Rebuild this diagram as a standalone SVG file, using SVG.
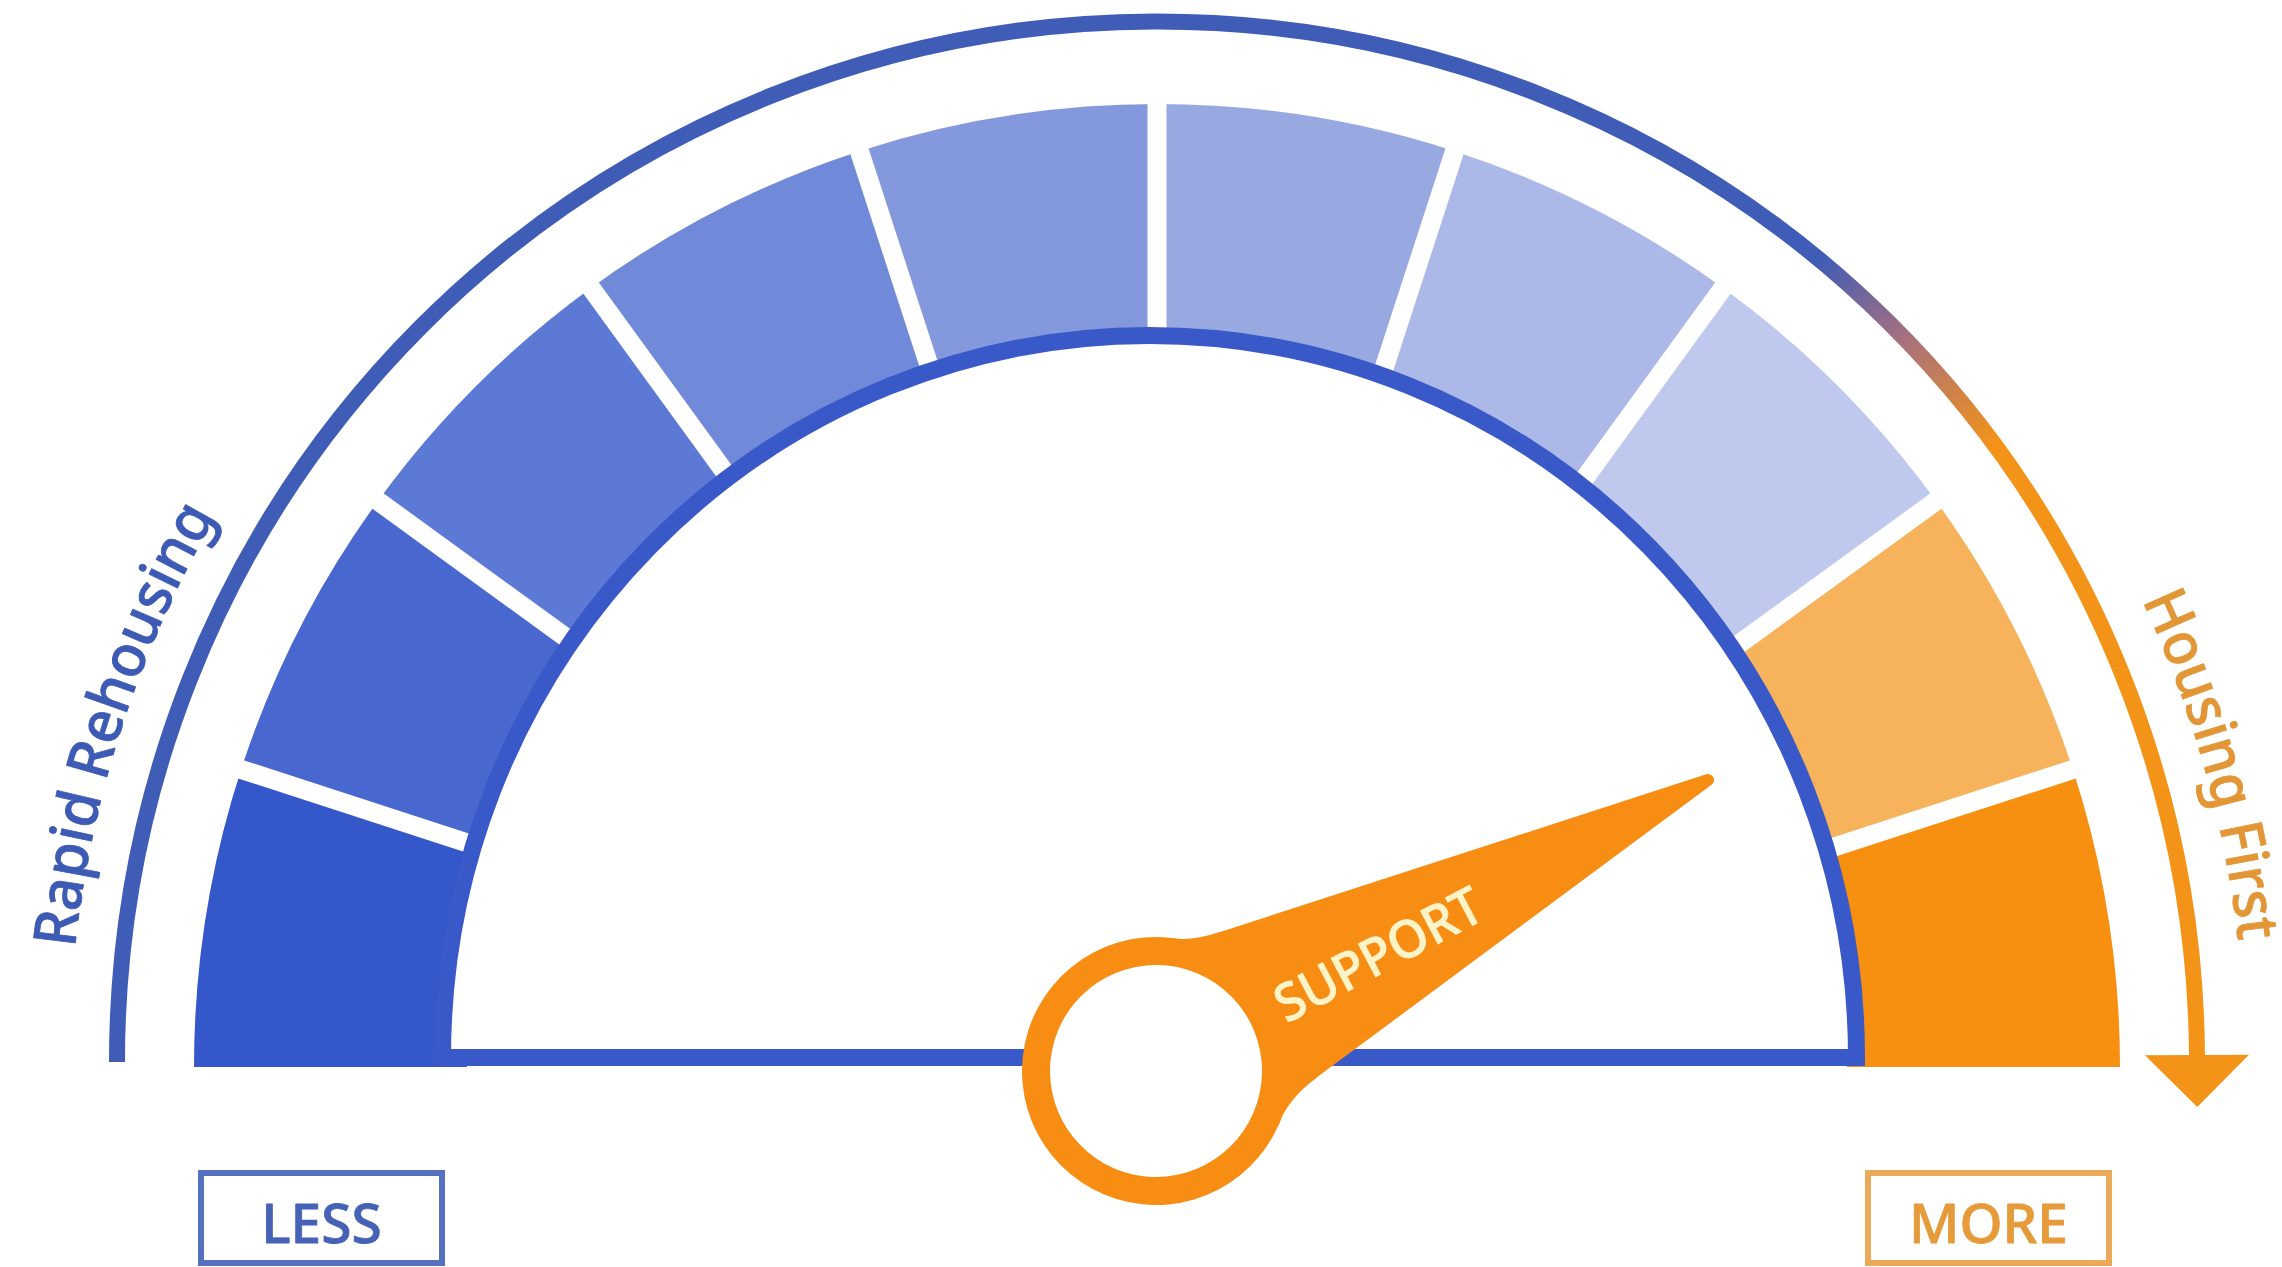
<svg xmlns="http://www.w3.org/2000/svg" width="2282" height="1267" viewBox="0 0 2282 1267">
  <style>
    .txt { font-family: "Noto Sans", "Liberation Sans", sans-serif; font-weight: 500; stroke-width: 0.8; stroke-linejoin: round; }
    .gap { stroke: #ffffff; stroke-width: 19; stroke-linecap: butt; }
    .box { fill: #ffffff; stroke-width: 6; }
    .ndl { fill: #F78D12; }
  </style>
  <defs>
    <linearGradient id="arcGrad" gradientUnits="userSpaceOnUse" x1="1830" y1="250" x2="2000" y2="440">
      <stop offset="0" stop-color="#3F5CB6"/>
      <stop offset="0.45" stop-color="#A7707F"/>
      <stop offset="1" stop-color="#F39318"/>
    </linearGradient>
    <marker id="arrow" markerUnits="userSpaceOnUse" markerWidth="60" markerHeight="110" refX="0" refY="52" orient="auto" overflow="visible">
      <path d="M0,0 L52,52 L0,104 Z" fill="#F39318"/>
    </marker>
    <path id="rrPath" d="M69,1062 A1088,1088 0 0 1 1157,-26"/>
    <path id="hfPath" d="M1157,-26 A1088,1088 0 0 1 2245,1062"/>
  </defs>

  <rect x="0" y="0" width="2282" height="1267" fill="#ffffff"/>

  <!-- connectors: the scale arc with its arrow -->
  <g id="connectors">
    <path id="scale-arc" d="M117,1062 A1040,1040 0 0 1 2196.98,1055" fill="none" stroke="url(#arcGrad)" stroke-width="16" marker-end="url(#arrow)"/>
  </g>

  <!-- gauge segments -->
  <g id="gauge">
    <path d="M194,1067 A963,963 0 0 1 241.13,769.41 L500.77,853.78 A690,690 0 0 0 467,1067 Z" fill="#3457C9"/>
    <path d="M241.13,769.41 A963,963 0 0 1 377.91,500.96 L598.78,661.42 A690,690 0 0 0 500.77,853.78 Z" fill="#4868CF"/>
    <path d="M377.91,500.96 A963,963 0 0 1 590.96,287.91 L751.42,508.78 A690,690 0 0 0 598.78,661.42 Z" fill="#5C79D5"/>
    <path d="M590.96,287.91 A963,963 0 0 1 859.41,151.13 L943.78,410.77 A690,690 0 0 0 751.42,508.78 Z" fill="#7089D9"/>
    <path d="M859.41,151.13 A963,963 0 0 1 1157,104 L1157,377 A690,690 0 0 0 943.78,410.77 Z" fill="#8499DD"/>
    <path d="M1157,104 A963,963 0 0 1 1454.59,151.13 L1370.22,410.77 A690,690 0 0 0 1157,377 Z" fill="#98A9E2"/>
    <path d="M1454.59,151.13 A963,963 0 0 1 1723.04,287.91 L1562.58,508.78 A690,690 0 0 0 1370.22,410.77 Z" fill="#ACB9E8"/>
    <path d="M1723.04,287.91 A963,963 0 0 1 1936.09,500.96 L1715.22,661.42 A690,690 0 0 0 1562.58,508.78 Z" fill="#BFC9EE"/>
    <path d="M1936.09,500.96 A963,963 0 0 1 2072.87,769.41 L1813.23,853.78 A690,690 0 0 0 1715.22,661.42 Z" fill="#F7B35B"/>
    <path d="M2072.87,769.41 A963,963 0 0 1 2120,1067 L1847,1067 A690,690 0 0 0 1813.23,853.78 Z" fill="#F78F10"/>
    <g class="gap">
      <line x1="491.26" y1="850.69" x2="224.96" y2="764.16"/>
      <line x1="590.69" y1="655.55" x2="364.16" y2="490.97"/>
      <line x1="745.55" y1="500.69" x2="580.97" y2="274.16"/>
      <line x1="940.69" y1="401.26" x2="854.16" y2="134.96"/>
      <line x1="1157" y1="367" x2="1157" y2="87"/>
      <line x1="1373.31" y1="401.26" x2="1459.84" y2="134.96"/>
      <line x1="1568.45" y1="500.69" x2="1733.03" y2="274.16"/>
      <line x1="1723.31" y1="655.55" x2="1949.84" y2="490.97"/>
      <line x1="1822.74" y1="850.69" x2="2089.04" y2="764.16"/>
    </g>
    <path id="dial-face" d="M442.5,1057.5 A707,722 0 0 1 1856.5,1057.5 Z" fill="#ffffff" stroke="#3A59C8" stroke-width="17"/>
  </g>

  <!-- needle -->
  <g id="needle" transform="translate(1156,1071) rotate(-27.8)">
    <circle class="ndl" cx="0" cy="0" r="134"/>
    <polygon class="ndl" points="0,-108 624,0 0,96" stroke="#F78D12" stroke-width="12" stroke-linejoin="round"/>
    <path class="ndl" d="M125,-92.5 Q91,-98.3 76.9,-109.8 L0,0 Z"/>
    <path class="ndl" d="M140,80.6 Q102.5,86.3 82.5,105.6 L0,0 Z"/>
    <circle cx="0" cy="0" r="106" fill="#ffffff"/>
    <text class="txt" x="251" y="19" text-anchor="middle" font-size="52" fill="#FFF4C8" stroke="#FFF4C8" textLength="227" lengthAdjust="spacingAndGlyphs">SUPPORT</text>
  </g>

  <!-- arc labels -->
  <g id="label-rapid-rehousing">
    <text class="txt" font-size="59" fill="#3D5BB4" stroke="#3D5BB4" textLength="458" lengthAdjust="spacingAndGlyphs"><textPath href="#rrPath" startOffset="114">Rapid Rehousing</textPath></text>
  </g>
  <g id="label-housing-first">
    <text class="txt" font-size="59" fill="#E39636" stroke="#E39636" textLength="356" lengthAdjust="spacingAndGlyphs"><textPath href="#hfPath" startOffset="1232">Housing First</textPath></text>
  </g>

  <!-- LESS / MORE boxes -->
  <g id="box-less">
    <rect class="box" x="201" y="1173" width="241" height="90" stroke="#5470BE"/>
    <text class="txt" x="321.5" y="1243" text-anchor="middle" font-size="55" fill="#4662B6" stroke="#4662B6">LESS</text>
  </g>
  <g id="box-more">
    <rect class="box" x="1868" y="1173" width="241" height="90" stroke="#EBAA5A"/>
    <text class="txt" x="1988.5" y="1243" text-anchor="middle" font-size="55" fill="#E69B3A" stroke="#E69B3A">MORE</text>
  </g>
</svg>
